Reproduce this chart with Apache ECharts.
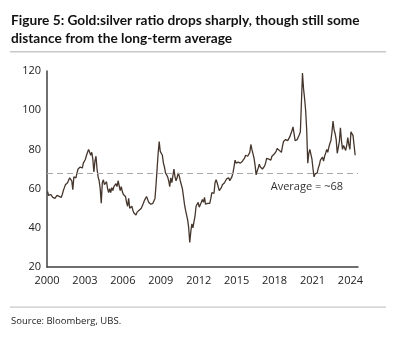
<!DOCTYPE html>
<html>
<head>
<meta charset="utf-8">
<script src="https://cdn.jsdelivr.net/npm/echarts@6/dist/echarts.min.js"></script>
<style>
  html, body { margin: 0; padding: 0; background: #fff; }
  #chart { width: 397px; height: 340px; }
</style>
</head>
<body>
<div id="chart"></div>
<script>
// Monthly gold:silver ratio, one array per year (Jan..Dec)
const startYear = 2000;
const r2000 = [58.5, 56.5, 55.5, 57, 56, 55.5, 56, 55, 56, 56.5, 57, 56];
const r2001 = [56, 55.5, 57, 59, 60.5, 62, 61, 63, 64, 65.5, 66.5, 64];
const r2002 = [59.5, 66, 67, 65.5, 68, 70, 69, 71, 72, 70.5, 73, 72.5];
const r2003 = [75, 77, 78.5, 80, 79, 77, 78.5, 75, 68.5, 74, 76.5, 70];
const r2004 = [66, 64, 60, 52.5, 63, 64.5, 62, 61, 63.5, 60, 58, 60];
const r2005 = [58, 60.5, 59, 61, 60, 62.5, 61, 64, 63, 59, 61, 58.5];
const r2006 = [57, 58, 56, 53, 51, 55, 50, 49.5, 51, 49, 47.5, 47];
const r2007 = [46.5, 48, 47, 49, 48.5, 50, 51, 52.5, 54, 55, 56, 54.5];
const r2008 = [53, 53.5, 52, 53, 52.5, 53.5, 55, 62, 70, 78, 84, 79];
const r2009 = [80, 77, 73, 71, 68, 67, 66, 64, 61, 65.5, 63, 64];
const r2010 = [70, 66, 64, 65.5, 68, 66.5, 64, 63, 60, 56, 52, 49];
const r2011 = [48, 44, 40, 32.5, 38, 42, 40, 43, 46, 51, 50, 53];
const r2012 = [50.5, 49.5, 53, 54.5, 53, 55.5, 52, 51, 52.5, 53.5, 52.5, 55];
const r2013 = [58, 59, 57.5, 63, 64.5, 63, 62.5, 59, 59.5, 60.5, 62, 61.5];
const r2014 = [63, 63.5, 65, 64, 65.5, 64, 64.5, 66, 68, 71, 74.5, 73];
const r2015 = [72, 73.5, 74, 73, 72.5, 74, 74.5, 75.5, 77, 76, 76.5, 75.5];
const r2016 = [78.5, 82.5, 80, 79, 75.5, 72, 67, 69, 70.5, 72.5, 71, 72];
const r2017 = [70, 70.5, 71.5, 73, 75.5, 74.5, 75, 75.5, 74.5, 76.5, 77, 77.5];
const r2018 = [77.5, 79, 80.5, 81, 79.5, 80, 78.5, 81.5, 84, 83, 85, 84];
const r2019 = [84.5, 85, 86.5, 88, 89.5, 91.5, 88, 84.5, 83.5, 85, 86, 87.5];
const r2020 = [89, 90, 119, 111, 106, 100, 90, 73, 78, 80, 77.5, 75];
const r2021 = [70, 66, 67.5, 66.5, 68, 70.5, 72, 74.5, 75, 76, 74, 76.5];
const r2022 = [78, 80, 78.5, 81, 83, 84.5, 89, 94.5, 90, 88, 85, 78];
const r2023 = [77, 84, 91, 84.5, 80, 82, 81, 79.5, 82, 86, 82.5, 80];
const r2024 = [89, 90, 87, 86, 77];
const yearly = [r2000, r2001, r2002, r2003, r2004, r2005, r2006, r2007, r2008,
  r2009, r2010, r2011, r2012, r2013, r2014, r2015, r2016, r2017, r2018, r2019,
  r2020, r2021, r2022, r2023, r2024];

const longTermAverage = 68;
const yTicks = [20, 40, 60, 80, 100, 120];
const xTicks = [2000, 2003, 2006, 2009, 2012, 2015, 2018, 2021, 2024];

const titleText = 'Figure 5: Gold:silver ratio drops sharply, though still some\ndistance from the long-term average';
const sourceText = 'Source: Bloomberg, UBS.';
const avgLabel = 'Average = ~68';

// Decimal-year x positions at mid-month
const points = [];
yearly.forEach((arr, yi) => {
  arr.forEach((v, m) => points.push([startYear + yi + (m + 0.5) / 12, v]));
});

const chart = echarts.init(document.getElementById('chart'), null, { renderer: 'canvas' });
const font = 'Open Sans';

chart.setOption({
  animation: false,
  backgroundColor: '#ffffff',
  grid: { left: 47, right: 39, top: 71, bottom: 73, containLabel: false },
  xAxis: {
    type: 'value',
    min: xTicks[0],
    max: 2024.6,
    interval: 3,
    axisLine: { show: true, lineStyle: { color: '#404040', width: 1.5 } },
    axisTick: { show: false },
    splitLine: { show: false },
    axisLabel: {
      margin: 8,
      color: '#222',
      fontFamily: font,
      fontSize: 11,
      formatter: v => (xTicks.includes(Math.round(v)) && Math.abs(v - Math.round(v)) < 1e-6) ? String(Math.round(v)) : ''
    }
  },
  yAxis: {
    type: 'value',
    min: yTicks[0],
    max: yTicks[yTicks.length - 1],
    interval: 20,
    axisLine: { show: true, lineStyle: { color: '#404040', width: 1.5 } },
    axisTick: { show: false },
    splitLine: { show: false },
    axisLabel: { margin: 6, color: '#222', fontFamily: font, fontSize: 11 }
  },
  series: [{
    type: 'line',
    data: points,
    symbol: 'none',
    lineStyle: { color: '#45362d', width: 1.3 },
    markLine: {
      silent: true,
      symbol: 'none',
      lineStyle: { color: '#a8a8a8', type: [6, 4], width: 1 },
      label: {
        show: true,
        position: 'insideEndBottom',
        distance: [15, 8],
        formatter: avgLabel,
        color: '#333',
        fontFamily: font,
        fontSize: 11
      },
      data: [{ yAxis: longTermAverage }]
    }
  }],
  graphic: [
    {
      type: 'text', left: 11, top: 12,
      style: { text: titleText, fontFamily: 'Lato', fontWeight: 'bold', fontSize: 13.7, lineHeight: 18, fill: '#111' }
    },
    {
      type: 'rect', shape: { x: 10, y: 51, width: 376, height: 1.5 },
      style: { fill: '#c8c8c8' }
    },
    {
      type: 'rect', shape: { x: 10, y: 306.5, width: 376, height: 1.2 },
      style: { fill: '#c8c8c8' }
    },
    {
      type: 'text', left: 11, top: 316,
      style: { text: sourceText, fontFamily: font, fontSize: 9.5, fill: '#222' }
    }
  ]
});
</script>
</body>
</html>
